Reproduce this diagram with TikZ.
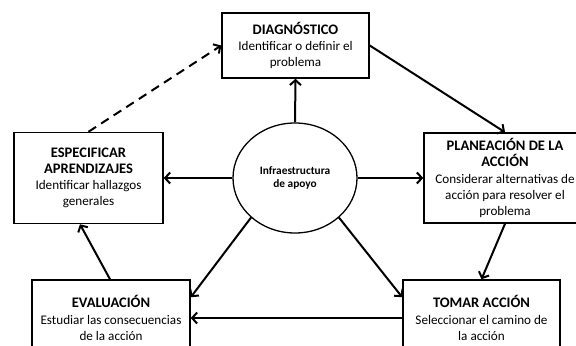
\documentclass[tikz,border=0pt]{standalone}
\usepackage{fontspec}
\setmainfont{Carlito}
\usetikzlibrary{arrows.meta,shapes.geometric,calc}
\newcommand\stagehead[1]{{\fontsize{14.6}{16}\selectfont\bfseries #1}}
\begin{document}
\begin{tikzpicture}[x=1bp,y=-1bp,
  stage/.style={draw, line width=1.5bp, align=center, inner sep=0pt,
    font=\fontsize{13.2}{16.2}\selectfont},
  hub/.style={draw, ellipse, line width=1.3bp, align=center, inner sep=0pt,
    minimum width=124bp, minimum height=110bp,
    font=\fontsize{11.4}{13}\selectfont\bfseries},
  arr/.style={line width=2bp, -{Straight Barb[length=5bp,width=11bp]}},
  ]
\useasboundingbox (0,0) rectangle (576,345);
\clip (0,0) rectangle (576,345);

% central support node
\node[hub] (infra) at (295,178) {Infraestructura\\de apoyo};

% the five stages of the cycle
\node[stage, minimum width=147bp, minimum height=65bp] (diag) at (295.5,45.5)
  {\stagehead{DIAGNÓSTICO}\\Identificar o definir el\\problema};
\node[stage, minimum width=162bp, minimum height=90bp] (plan) at (505,178)
  {\stagehead{PLANEACIÓN DE LA}\\\stagehead{ACCIÓN}\\Considerar alternativas de\\acción para resolver el\\problema};
\node[stage, minimum width=157bp, minimum height=76bp] (tomar) at (481.5,318)
  {\stagehead{TOMAR ACCIÓN}\\Seleccionar el camino de\\la acción};
\node[stage, minimum width=158bp, minimum height=76bp] (eval) at (111,318)
  {\stagehead{EVALUACIÓN}\\Estudiar las consecuencias\\de la acción};
\node[stage, minimum width=149bp, minimum height=91bp] (espec) at (88.5,178)
  {\stagehead{ESPECIFICAR}\\\stagehead{APRENDIZAJES}\\Identificar hallazgos\\generales};

% cycle connectors
\draw[arr] (diag.east) -- (plan.north);
\draw[arr] (plan.south) -- (tomar.north);
\draw[arr] (tomar.west) -- (eval.east);
\draw[arr] ($(eval.north)+(-1,0)$) -- ($(espec.south)+(-8.5,0)$);
\draw[arr, dashed, dash pattern=on 9bp off 6bp] (espec.north) -- (diag.west);

% connectors from the support node
\draw[arr] (infra.north) -- (diag.south);
\draw[arr] (infra.east) -- (plan.west);
\draw[arr] (infra.west) -- (espec.east);
\draw[arr] (infra.-42) -- ($(tomar.north west)+(0,18)$);
\draw[arr] (infra.222) -- ($(eval.north east)+(0,18)$);
\end{tikzpicture}
\end{document}
